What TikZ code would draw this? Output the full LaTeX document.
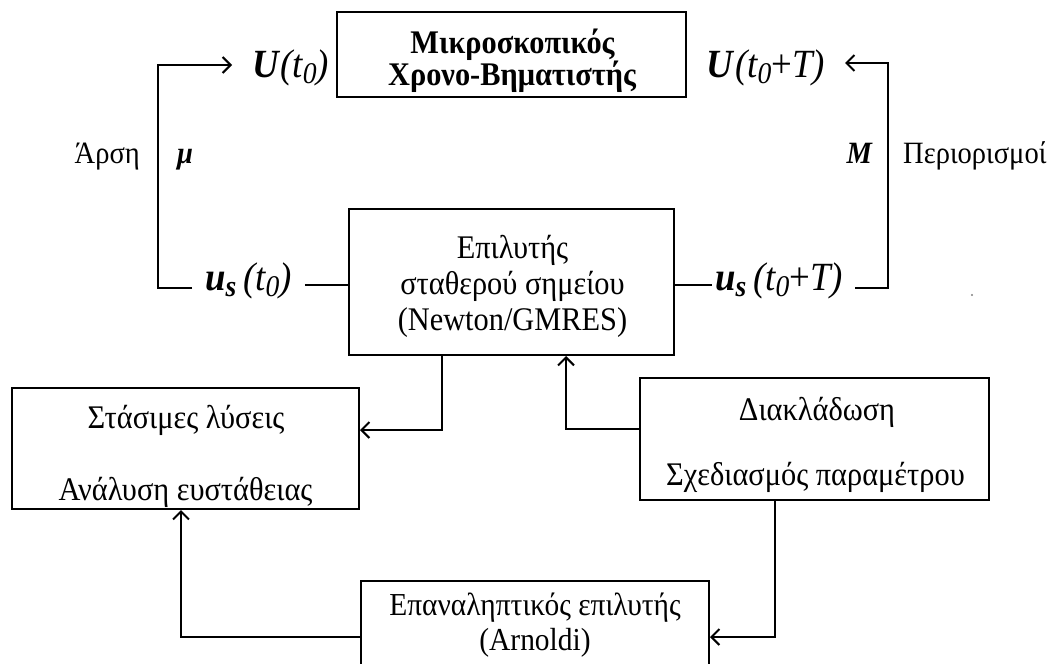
\documentclass[tikz,border=0pt]{standalone}
\usepackage{fontspec}
\setmainfont{Liberation Serif}[FakeStretch=0.92]
\usetikzlibrary{arrows.meta}
\newcommand{\mysub}[1]{\raisebox{-0.15em}{\fontsize{30}{30}\selectfont #1}}
\begin{document}
\begin{tikzpicture}[x=1pt,y=-1pt,
  box/.style={draw, line width=2pt, inner sep=0pt},
  txt/.style={inner sep=0pt, anchor=base, font=\fontsize{33}{36}\selectfont},
  lbl/.style={inner sep=0pt},
  conn/.style={line width=2pt},
  arr/.style={line width=2pt, -{Straight Barb[length=8pt,width=16pt]}},
  big/.style={font=\fontsize{40}{42}\selectfont},
  side/.style={font=\fontsize{31}{33}\selectfont}]
\clip (0,0) rectangle (1061,664);
\useasboundingbox (0,0) rectangle (1061,664);
% boxes
\node[box, minimum width=349pt, minimum height=85pt] (top) at (511.5,54.5) {};
\node[box, minimum width=325pt, minimum height=146pt] (mid) at (511.5,282) {};
\node[box, minimum width=347pt, minimum height=121pt] (left) at (185.5,448.5) {};
\node[box, minimum width=349pt, minimum height=122pt] (right) at (814.5,439) {};
\node[box, minimum width=348pt, minimum height=100pt] (bot) at (535,631) {};
% box texts
\node[txt, font=\fontsize{33}{36}\selectfont\bfseries] (top1) at (512.5,53) {Μικροσκοπικός};
\node[txt, font=\fontsize{33}{36}\selectfont\bfseries] (top2) at (512,85) {Χρονο-Βηματιστής};
\node[txt] (mid1) at (512.5,258) {Επιλυτής};
\node[txt] (mid2) at (512.5,294) {σταθερού σημείου};
\node[txt] (mid3) at (512.5,330) {(Newton/GMRES)};
\node[txt] (left1) at (186,428) {Στάσιμες λύσεις};
\node[txt] (left2) at (185.5,500) {Ανάλυση ευστάθειας};
\node[txt] (right1) at (817,420) {Διακλάδωση};
\node[txt] (right2) at (815.5,485) {Σχεδιασμός παραμέτρου};
\node[txt, font=\fontsize{32}{34}\selectfont] (bot1) at (535,615) {Επαναληπτικός επιλυτής};
\node[txt, font=\fontsize{32}{34}\selectfont] (bot2) at (535,650) {(Arnoldi)};
% labels
\node[lbl, big, inner xsep=20pt, anchor=base west] (UL) at (232,77) {\textbf{\textit{U}}\textit{(t\mysub{0})}};
\node[lbl, big, inner xsep=20pt, anchor=base east] (UR) at (845,77) {\textbf{\textit{U}}\textit{(t\mysub{0}}+\textit{T)}};
\node[lbl, big, inner xsep=13pt, anchor=base west] (usL) at (192,290) {\textbf{\textit{u\mysub{s}}}\,\textit{(t\mysub{0})}};
\node[lbl, big, inner xsep=3pt, anchor=base west] (usR) at (712,290) {\textbf{\textit{u\mysub{s}}}\,\textit{(t\mysub{0}}+\textit{T)}};
\node[lbl, side, anchor=base east] (arsi) at (140,163) {Άρση};
\node[lbl, side, anchor=base west] (mu) at (177,163) {\textbf{\textit{μ}}};
\node[lbl, side, anchor=base east] (M) at (873,163) {\textbf{\textit{M}}};
\node[lbl, side, anchor=base west] (per) at (903,163) {Περιορισμοί};
% helper coordinates
\coordinate (b1) at (158,288);
\coordinate (cL) at (158,65);
\coordinate (b2) at (349,285);
\coordinate (b3) at (855,288);
\coordinate (b4) at (888,288);
\coordinate (cR) at (888,63);
\coordinate (m1) at (442,430);
\coordinate (m2) at (566,429);
\coordinate (m3) at (775,637);
\coordinate (m4) at (181,637);
% connectors
\draw[arr] (usL.west |- b1) -- (b1) -- (cL) -- (UL.west |- cL);
\draw[conn] (usL.east |- b2) -- (mid.west |- b2);
\draw[conn] (mid.east |- b2) -- (usR.west |- b2);
\draw[arr] (b3) -- (b4) -- (cR) -- (UR.east |- cR);
\draw[arr] (mid.south -| m1) |- (left.east |- m1);
\draw[arr] (right.west |- m2) -| (mid.south -| m2);
\draw[arr] (right.south -| m3) |- (bot.east |- m3);
\draw[arr] (bot.west |- m4) -| (left.south -| m4);
\fill[gray] (972,295) circle (1.2pt);
\end{tikzpicture}
\end{document}
